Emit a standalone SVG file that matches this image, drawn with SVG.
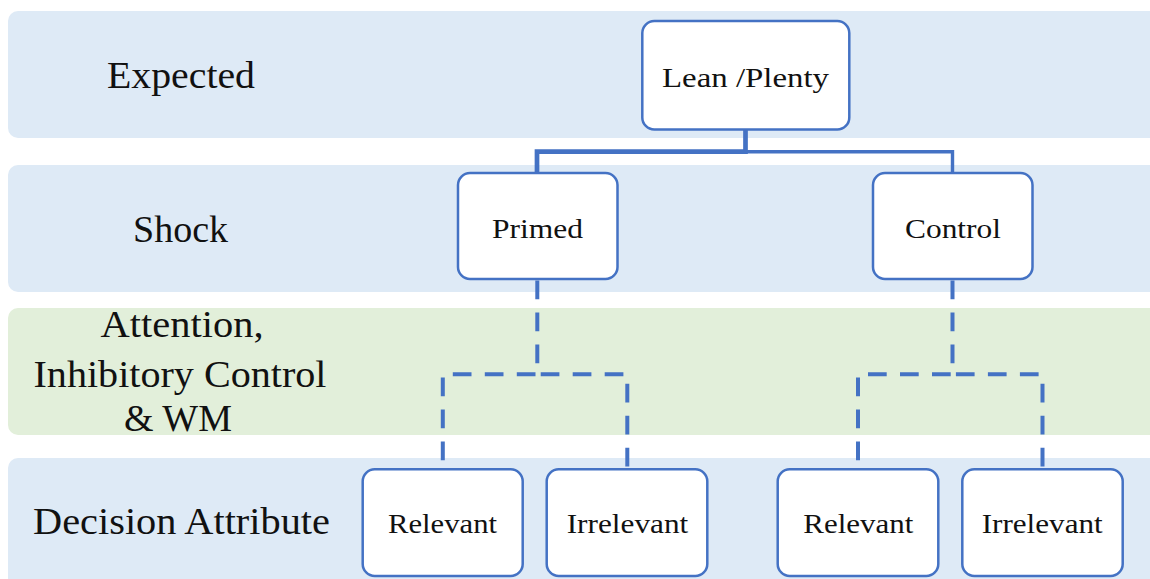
<svg xmlns="http://www.w3.org/2000/svg" width="1150" height="579" viewBox="0 0 1150 579">
  <style>
    .band-blue { fill: #deeaf6; }
    .band-green { fill: #e2efda; }
    .node rect { fill: #ffffff; stroke: #4472c4; stroke-width: 2.5; }
    .node text { font-family: "Liberation Serif", "DejaVu Serif", serif; font-size: 28px; fill: #111111; text-anchor: middle; }
    .label { font-family: "Liberation Serif", "DejaVu Serif", serif; font-size: 37px; fill: #111111; text-anchor: middle; }
    .solid { fill: none; stroke: #4472c4; stroke-linejoin: miter; }
    .dash { fill: none; stroke: #4472c4; stroke-width: 4; stroke-dasharray: 18.7 13.3; }
  </style>

  <!-- row bands -->
  <g id="bands">
    <rect class="band-blue" x="8" y="11" width="1160" height="127" rx="10"/>
    <rect class="band-blue" x="8" y="165" width="1160" height="127" rx="10"/>
    <rect class="band-green" x="8" y="308" width="1160" height="127" rx="10"/>
    <rect class="band-blue" x="8" y="458" width="1160" height="140" rx="10"/>
  </g>

  <!-- row labels -->
  <g id="row-labels">
    <text class="label" x="181" y="88" textLength="148" lengthAdjust="spacingAndGlyphs">Expected</text>
    <text class="label" x="180.5" y="242" textLength="95" lengthAdjust="spacingAndGlyphs">Shock</text>
    <text class="label" x="182" y="337" textLength="163" lengthAdjust="spacingAndGlyphs">Attention,</text>
    <text class="label" x="180" y="387" textLength="293" lengthAdjust="spacingAndGlyphs">Inhibitory Control</text>
    <text class="label" x="178" y="431" textLength="108" lengthAdjust="spacingAndGlyphs">&amp; WM</text>
    <text class="label" x="181.5" y="534" textLength="297" lengthAdjust="spacingAndGlyphs">Decision Attribute</text>
  </g>

  <!-- connectors -->
  <g id="connectors">
    <path class="solid" stroke-width="4.7" d="M745.5 130 V151.7 H537 V173"/>
    <path class="solid" stroke-width="3.4" d="M745.5 151.7 H952.5 V173"/>
    <path class="dash" d="M537.3 280.5 V368"/>
    <path class="dash" d="M535.5 374.3 H442.8 V469"/>
    <path class="dash" d="M540.7 374.3 H627.3 V469"/>
    <path class="dash" d="M952.5 280.5 V368"/>
    <path class="dash" d="M950.7 374.3 H858 V469"/>
    <path class="dash" d="M955.9 374.3 H1042.5 V469"/>
  </g>

  <!-- nodes -->
  <g id="node-lean-plenty" class="node">
    <rect x="642.3" y="21" width="207" height="108.5" rx="12"/>
    <text x="745.5" y="87" textLength="167" lengthAdjust="spacingAndGlyphs">Lean /Plenty</text>
  </g>
  <g id="node-primed" class="node">
    <rect x="458" y="173" width="159.5" height="106" rx="12"/>
    <text x="537.5" y="238" textLength="91" lengthAdjust="spacingAndGlyphs">Primed</text>
  </g>
  <g id="node-control" class="node">
    <rect x="873" y="173" width="159.5" height="106" rx="12"/>
    <text x="953" y="238" textLength="96" lengthAdjust="spacingAndGlyphs">Control</text>
  </g>
  <g id="node-primed-relevant" class="node">
    <rect x="362.7" y="469.3" width="160" height="106.7" rx="12"/>
    <text x="442.5" y="533" textLength="109" lengthAdjust="spacingAndGlyphs">Relevant</text>
  </g>
  <g id="node-primed-irrelevant" class="node">
    <rect x="546.7" y="469.3" width="160.6" height="106.7" rx="12"/>
    <text x="627.5" y="533" textLength="121.6" lengthAdjust="spacingAndGlyphs">Irrelevant</text>
  </g>
  <g id="node-control-relevant" class="node">
    <rect x="777.7" y="469.3" width="160.6" height="106.7" rx="12"/>
    <text x="858.3" y="533" textLength="110" lengthAdjust="spacingAndGlyphs">Relevant</text>
  </g>
  <g id="node-control-irrelevant" class="node">
    <rect x="962.3" y="469.3" width="160.4" height="106.7" rx="12"/>
    <text x="1042.2" y="533" textLength="121" lengthAdjust="spacingAndGlyphs">Irrelevant</text>
  </g>
</svg>
